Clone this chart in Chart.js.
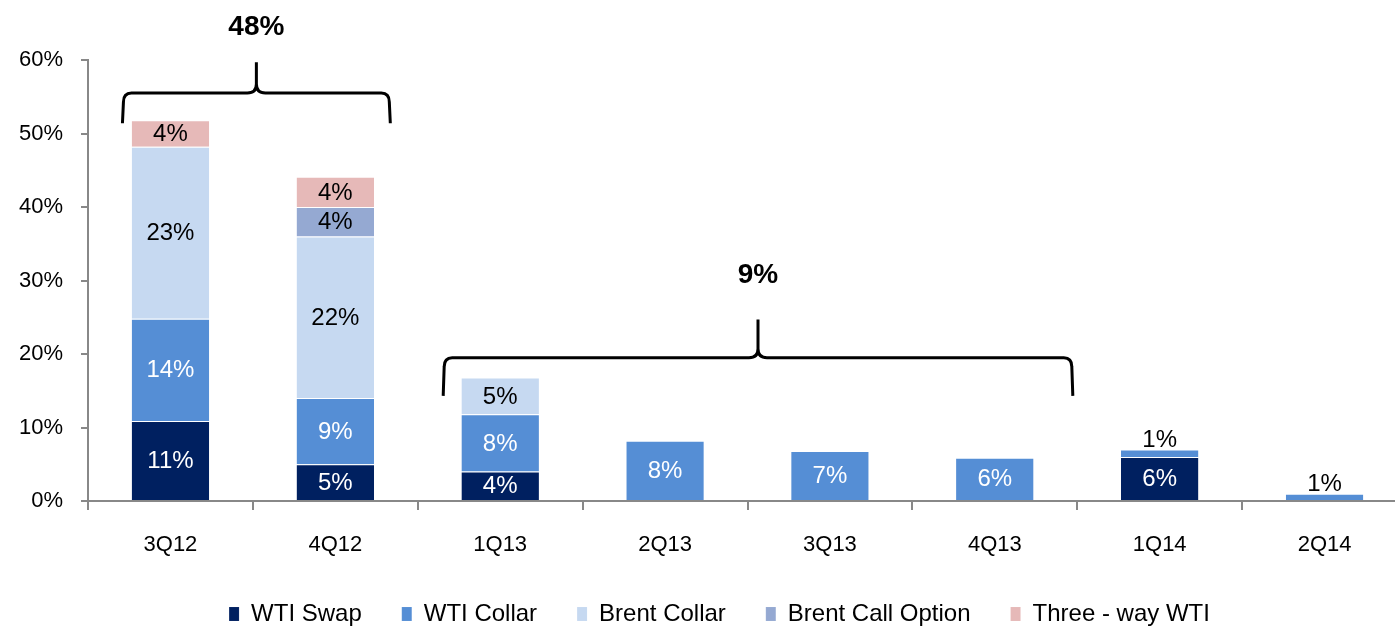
<!DOCTYPE html>
<html>
<head>
<meta charset="utf-8">
<script src="https://cdn.jsdelivr.net/npm/chart.js@4/dist/chart.umd.min.js"></script>
<style>
  html, body { margin: 0; padding: 0; background: #fff; overflow: hidden; }
  #wrap { width: 1412px; height: 628px; }
</style>
</head>
<body>
<div id="wrap"><canvas id="hedges" width="1412" height="628"></canvas></div>
<script>
const categories = ['3Q12', '4Q12', '1Q13', '2Q13', '3Q13', '4Q13', '1Q14', '2Q14'];
const wtiSwap     = [10.9, 5.0, 4.0, null, null, null, 6.0, null];
const wtiCollar   = [13.9, 9.0, 7.8, 8.2, 6.8, 5.9, 1.0, 1.0];
const brentCollar = [23.4, 22.0, 5.0, null, null, null, null, null];
const brentCall   = [null, 4.0, null, null, null, null, null, null];
const threeWay    = [3.6, 4.1, null, null, null, null, null, null];

// bracket totals drawn above the bars
const braceLabels = ['48%', '9%'];
const braceFrom   = ['3Q12', '1Q13'];
const braceTo     = ['4Q12', '4Q13'];

const FONT = "'Liberation Sans', Arial, sans-serif";

// brace geometry (pixel offsets from bar centres, heights in axis %)
const braceStyle = [
  { padL: 48, padR: 55, endY: 51.4, lineY: 55.5, tipY: 59.7, textY: 64.4 },
  { padL: 57, padR: 78, endY: 14.3, lineY: 19.5, tipY: 24.7, textY: 30.7 },
];

const segmentLabels = {
  id: 'segmentLabels',
  afterDatasetsDraw(chart) {
    const ctx = chart.ctx;
    ctx.save();
    ctx.font = '24px ' + FONT;
    ctx.textAlign = 'center';
    chart.data.datasets.forEach((ds, i) => {
      const meta = chart.getDatasetMeta(i);
      meta.data.forEach((el, j) => {
        const v = ds.data[j];
        if (v == null) return;
        const txt = Math.round(v) + '%';
        if (v < 2) {
          ctx.fillStyle = '#000';
          ctx.textBaseline = 'bottom';
          ctx.fillText(txt, el.x, el.y + 3);
        } else {
          ctx.fillStyle = ds.labelColor;
          ctx.textBaseline = 'middle';
          ctx.fillText(txt, el.x, (el.y + el.base) / 2 + 1);
        }
      });
    });
    ctx.restore();
  }
};

const braces = {
  id: 'braces',
  afterDraw(chart) {
    const ctx = chart.ctx;
    const x = chart.scales.x, y = chart.scales.y;
    ctx.save();
    ctx.strokeStyle = '#000';
    ctx.lineWidth = 3;
    ctx.lineJoin = 'round';
    braceLabels.forEach((label, k) => {
      const s = braceStyle[k];
      const L = x.getPixelForValue(categories.indexOf(braceFrom[k])) - s.padL;
      const R = x.getPixelForValue(categories.indexOf(braceTo[k])) + s.padR;
      const M = (L + R) / 2;
      const yE = y.getPixelForValue(s.endY);
      const yH = y.getPixelForValue(s.lineY);
      const yT = y.getPixelForValue(s.tipY);
      const r = 9;
      ctx.beginPath();
      ctx.moveTo(L, yE);
      ctx.lineTo(L + 1, yH + r);
      ctx.quadraticCurveTo(L + 1, yH, L + r, yH);
      ctx.lineTo(M - r, yH);
      ctx.quadraticCurveTo(M, yH, M, yH - r);
      ctx.lineTo(M, yT);
      ctx.moveTo(M, yH - r);
      ctx.quadraticCurveTo(M, yH, M + r, yH);
      ctx.lineTo(R - r, yH);
      ctx.quadraticCurveTo(R - 1, yH, R - 1, yH + r);
      ctx.lineTo(R, yE);
      ctx.stroke();

      ctx.fillStyle = '#000';
      ctx.font = 'bold 28px ' + FONT;
      ctx.textAlign = 'center';
      ctx.textBaseline = 'middle';
      ctx.fillText(label, M, y.getPixelForValue(s.textY));
    });
    ctx.restore();
  }
};

// nudge the legend a little right, as in the original
const legendShift = {
  id: 'legendShift',
  afterLayout(chart) {
    const lg = chart.legend;
    if (!lg) return;
    lg.left += 16;
    lg.right += 16;
  }
};

const mk = (label, data, color, labelColor) => ({
  label, data, labelColor,
  backgroundColor: color,
  borderColor: 'rgba(255,255,255,0.3)',
  borderWidth: { top: 1 },
  borderSkipped: false,
  categoryPercentage: 1.0,
  barPercentage: 0.47,
});

new Chart(document.getElementById('hedges').getContext('2d'), {
  type: 'bar',
  data: {
    labels: categories,
    datasets: [
      mk('WTI Swap', wtiSwap, '#002060', '#fff'),
      mk('WTI Collar', wtiCollar, '#558ED5', '#fff'),
      mk('Brent Collar', brentCollar, '#C6D9F1', '#000'),
      mk('Brent Call Option', brentCall, '#95A9D2', '#000'),
      mk('Three - way WTI', threeWay, '#E6B9B8', '#000'),
    ],
  },
  options: {
    responsive: false,
    animation: false,
    layout: { padding: { top: 60, right: 5, left: 0, bottom: -8 } },
    plugins: {
      tooltip: { enabled: false },
      legend: {
        position: 'bottom',
        labels: {
          color: '#000',
          font: { family: FONT, size: 24 },
          boxWidth: 10,
          boxHeight: 14,
          padding: 40,
        },
      },
    },
    scales: {
      x: {
        stacked: true,
        border: { color: '#888', width: 2 },
        grid: { drawOnChartArea: false, color: '#888', lineWidth: 2, tickLength: 9, offset: true },
        ticks: { color: '#000', font: { family: FONT, size: 22 }, padding: 22 },
        afterFit(scale) { scale.height = 61; },
      },
      y: {
        stacked: true,
        min: 0,
        max: 60,
        border: { color: '#888', width: 2 },
        grid: { drawOnChartArea: false, color: '#888', lineWidth: 2, tickLength: 7 },
        ticks: {
          stepSize: 10,
          color: '#000',
          font: { family: FONT, size: 22 },
          padding: 18,
          callback: (v) => v + '%',
        },
        afterFit(scale) { scale.width = 88; },
      },
    },
  },
  plugins: [segmentLabels, braces, legendShift],
});
</script>
</body>
</html>
